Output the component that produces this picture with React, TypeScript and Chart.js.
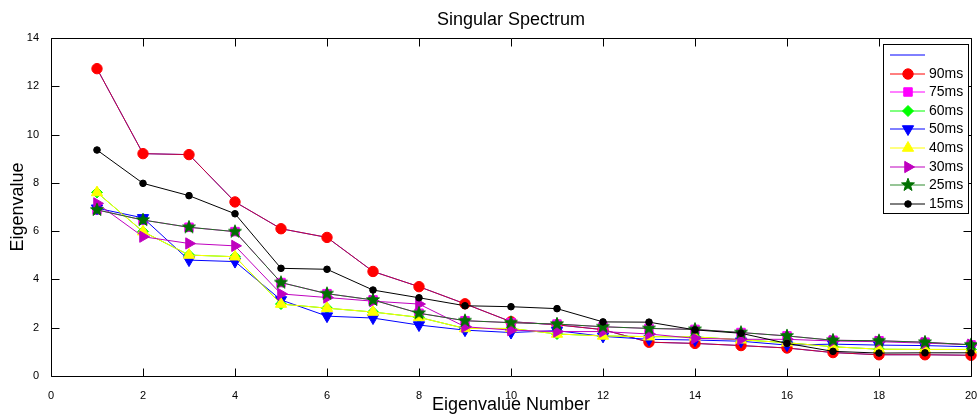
import React, { useEffect, useRef } from 'react';
import { Chart, registerables } from 'chart.js';

Chart.register(...registerables);

// ---- data ----
const eigenIndex = [1, 2, 3, 4, 5, 6, 7, 8, 9, 10, 11, 12, 13, 14, 15, 16, 17, 18, 19, 20];
const seriesLabels = ['', '90ms', '75ms', '60ms', '50ms', '40ms', '30ms', '25ms', '15ms'];
const s90 = [12.73, 9.21, 9.17, 7.21, 6.10, 5.74, 4.33, 3.70, 2.99, 2.25, 2.12, 1.92, 1.40, 1.35, 1.26, 1.16, 0.97, 0.88, 0.88, 0.86];
const sBlank = [12.73, 9.21, 9.17, 7.21, 6.10, 5.74, 4.33, 3.70, 2.99, 2.25, 2.12, 1.92, 1.40, 1.35, 1.26, 1.16, 0.97, 0.88, 0.88, 0.86];
const s75 = [6.88, 6.46, 6.16, 5.98, 3.87, 3.41, 3.15, 2.60, 2.29, 2.21, 2.15, 2.04, 1.97, 1.93, 1.80, 1.66, 1.48, 1.46, 1.40, 1.29];
const s60 = [7.60, 5.98, 5.01, 4.94, 2.98, 2.81, 2.65, 2.43, 1.97, 1.97, 1.74, 1.66, 1.63, 1.62, 1.50, 1.38, 1.21, 1.11, 1.10, 1.10];
const s50 = [6.95, 6.55, 4.80, 4.74, 3.15, 2.48, 2.40, 2.11, 1.90, 1.80, 1.88, 1.64, 1.52, 1.49, 1.44, 1.28, 1.32, 1.28, 1.26, 1.21];
const s40 = [7.60, 5.98, 5.01, 4.94, 2.98, 2.81, 2.65, 2.43, 1.97, 1.97, 1.74, 1.66, 1.63, 1.62, 1.50, 1.38, 1.21, 1.11, 1.10, 1.10];
const s30 = [7.15, 5.77, 5.49, 5.39, 3.40, 3.25, 3.10, 2.98, 2.04, 1.90, 1.84, 1.84, 1.74, 1.56, 1.52, 1.52, 1.45, 1.42, 1.36, 1.30];
const s25 = [6.88, 6.46, 6.16, 5.98, 3.87, 3.41, 3.15, 2.60, 2.29, 2.21, 2.15, 2.04, 1.97, 1.93, 1.80, 1.66, 1.48, 1.46, 1.40, 1.29];
const s15 = [9.36, 7.98, 7.47, 6.72, 4.46, 4.42, 3.56, 3.24, 2.91, 2.87, 2.79, 2.24, 2.23, 1.91, 1.77, 1.35, 1.02, 0.95, 0.96, 0.96];
const xTickStep = 2;
const yTickStep = 2;
const xMax = 20;
const yMax = 14;

const FONT = "'Liberation Sans', Arial, sans-serif";

function makeStar(color: string): HTMLCanvasElement {
  const c = document.createElement('canvas');
  c.width = 16;
  c.height = 16;
  const g = c.getContext('2d')!;
  const cx = 8, cy = 8, ro = 6.8, ri = 2.8;
  g.beginPath();
  for (let k = 0; k < 10; k++) {
    const r = k % 2 === 0 ? ro : ri;
    const a = (k * Math.PI) / 5;
    const px = cx + Math.sin(a) * r;
    const py = cy - Math.cos(a) * r;
    if (k === 0) g.moveTo(px, py);
    else g.lineTo(px, py);
  }
  g.closePath();
  g.fillStyle = color;
  g.strokeStyle = color;
  g.lineWidth = 1;
  g.fill();
  g.stroke();
  return c;
}

function drawMarker(ctx: CanvasRenderingContext2D, ds: any) {
  const style = ds.pointStyle;
  const r = ds.pointRadius || 0;
  if (!r) return;
  if (style instanceof HTMLCanvasElement) {
    ctx.drawImage(style, -style.width / 2, -style.height / 2);
    return;
  }
  ctx.save();
  ctx.rotate(((ds.pointRotation || 0) * Math.PI) / 180);
  ctx.beginPath();
  if (style === 'circle') {
    ctx.arc(0, 0, r, 0, Math.PI * 2);
  } else if (style === 'rect') {
    const s = r * Math.SQRT1_2;
    ctx.rect(-s, -s, 2 * s, 2 * s);
  } else if (style === 'rectRot') {
    ctx.moveTo(0, -r);
    ctx.lineTo(r, 0);
    ctx.lineTo(0, r);
    ctx.lineTo(-r, 0);
    ctx.closePath();
  } else if (style === 'triangle') {
    for (let k = 0; k < 3; k++) {
      const a = (k * 2 * Math.PI) / 3;
      const px = Math.sin(a) * r;
      const py = -Math.cos(a) * r;
      if (k === 0) ctx.moveTo(px, py);
      else ctx.lineTo(px, py);
    }
    ctx.closePath();
  }
  ctx.fillStyle = ds.pointBackgroundColor;
  ctx.strokeStyle = ds.pointBorderColor;
  ctx.lineWidth = ds.pointBorderWidth || 1;
  ctx.fill();
  ctx.stroke();
  ctx.restore();
}

const framePlugin = {
  id: 'matlabFrame',
  afterDatasetsDraw(chart: any) {
    const { ctx, chartArea: a, scales } = chart;
    const x = scales.x;
    const y = scales.y;
    const L = Math.round(a.left) + 0.5;
    const R = Math.round(a.right) + 0.5;
    const T = Math.round(a.top) + 0.5;
    const B = Math.round(a.bottom) + 0.5;
    const tl = 8;
    ctx.save();
    ctx.strokeStyle = '#000';
    ctx.lineWidth = 1;
    ctx.beginPath();
    ctx.rect(L, T, R - L, B - T);
    x.ticks.forEach((t: any) => {
      const px = Math.round(x.getPixelForValue(t.value)) + 0.5;
      ctx.moveTo(px, B);
      ctx.lineTo(px, B - tl);
      ctx.moveTo(px, T);
      ctx.lineTo(px, T + tl);
    });
    y.ticks.forEach((t: any) => {
      const py = Math.round(y.getPixelForValue(t.value)) + 0.5;
      ctx.moveTo(L, py);
      ctx.lineTo(L + tl, py);
      ctx.moveTo(R, py);
      ctx.lineTo(R - tl, py);
    });
    ctx.stroke();
    ctx.restore();
  },
};

const legendPlugin = {
  id: 'matlabLegend',
  afterDraw(chart: any) {
    const { ctx, chartArea: a } = chart;
    const datasets = chart.data.datasets;
    const rowH = 18.6;
    const boxW = 85;
    const boxR = Math.round(a.right) - 3;
    const boxT = Math.round(a.top) + 6;
    const boxH = Math.round(datasets.length * rowH + 2);
    const boxL = boxR - boxW;
    ctx.save();
    ctx.fillStyle = '#fff';
    ctx.fillRect(boxL, boxT, boxW, boxH);
    ctx.strokeStyle = '#000';
    ctx.lineWidth = 1;
    ctx.strokeRect(boxL + 0.5, boxT + 0.5, boxW, boxH);
    ctx.font = `14px ${FONT}`;
    ctx.textBaseline = 'middle';
    ctx.textAlign = 'left';
    datasets.forEach((ds: any, i: number) => {
      const cy = Math.round(boxT + 11 + i * rowH);
      ctx.beginPath();
      ctx.strokeStyle = ds.legendColor || ds.borderColor;
      ctx.lineWidth = 1;
      ctx.moveTo(boxL + 7, cy);
      ctx.lineTo(boxL + 42, cy);
      ctx.stroke();
      ctx.save();
      ctx.translate(boxL + 25, cy);
      drawMarker(ctx, ds);
      ctx.restore();
      if (ds.label) {
        ctx.fillStyle = '#000';
        ctx.fillText(ds.label, boxL + 46, cy + 0.5);
      }
    });
    ctx.restore();
  },
};

export default function App() {
  const canvasRef = useRef<HTMLCanvasElement | null>(null);

  useEffect(() => {
    if (!canvasRef.current) return;
    const star = makeStar('#007000');
    const pts = (arr: number[]) => arr.map((v, i) => ({ x: eigenIndex[i], y: v }));
    const specs = [
      { data: sBlank, color: '#0000ff', legendColor: '#0000ff', style: 'circle', radius: 0, rot: 0, fill: '#0000ff' },
      { data: s90, color: 'rgba(255,0,0,0.78)', legendColor: '#ff0000', style: 'circle', radius: 5.2, rot: 0, fill: '#ff0000' },
      { data: s75, color: '#ff00ff', legendColor: '#ff00ff', style: 'rect', radius: 6, rot: 0, fill: '#ff00ff' },
      { data: s60, color: '#00ff00', legendColor: '#00ff00', style: 'rectRot', radius: 5.5, rot: 0, fill: '#00ff00' },
      { data: s50, color: '#0000ff', legendColor: '#0000ff', style: 'triangle', radius: 6.5, rot: 180, fill: '#0000ff' },
      { data: s40, color: '#ffff00', legendColor: '#ffff00', style: 'triangle', radius: 6.5, rot: 0, fill: '#ffff00' },
      { data: s30, color: '#bf00bf', legendColor: '#bf00bf', style: 'triangle', radius: 6.5, rot: 90, fill: '#bf00bf' },
      { data: s25, color: '#1e6e1e', legendColor: '#2e8b2e', style: star as any, radius: 6, rot: 0, fill: '#007000' },
      { data: s15, color: '#000000', legendColor: '#000000', style: 'circle', radius: 3.3, rot: 0, fill: '#000000' },
    ];
    const n = specs.length;
    const datasets = specs.map((s, i) => ({
      label: seriesLabels[i],
      data: pts(s.data),
      borderColor: s.color,
      legendColor: s.legendColor,
      backgroundColor: s.fill,
      borderWidth: 1,
      pointStyle: s.style,
      pointRadius: s.radius,
      pointRotation: s.rot,
      pointBackgroundColor: s.fill,
      pointBorderColor: s.fill,
      pointBorderWidth: 1,
      pointHoverRadius: s.radius,
      tension: 0,
      fill: false,
      clip: false as any,
      order: n - i,
    }));

    const chart = new Chart(canvasRef.current, {
      type: 'line',
      data: { datasets: datasets as any },
      options: {
        animation: false,
        responsive: false,
        devicePixelRatio: 1,
        events: [],
        layout: { padding: { left: 0, right: 29, top: 0, bottom: 0 } },
        plugins: {
          legend: { display: false },
          tooltip: { enabled: false },
          title: {
            display: true,
            text: 'Singular Spectrum',
            color: '#000',
            fullSize: false,
            font: { family: FONT, size: 18, weight: 'normal' },
            padding: { top: 9, bottom: 7.4 },
          },
        },
        scales: {
          x: {
            type: 'linear',
            min: 0,
            max: xMax,
            grid: { display: false },
            border: { display: false },
            ticks: {
              stepSize: xTickStep,
              color: '#000',
              padding: 5,
              maxRotation: 0,
              font: { family: FONT, size: 11 },
            },
            title: {
              display: true,
              text: 'Eigenvalue Number',
              color: '#000',
              font: { family: FONT, size: 18 },
              padding: { top: 0, bottom: 1 },
            },
            afterFit: (s: any) => {
              s.height = 41;
            },
          },
          y: {
            type: 'linear',
            min: 0,
            max: yMax,
            grid: { display: false },
            border: { display: false },
            ticks: {
              stepSize: yTickStep,
              color: '#000',
              padding: 4,
              font: { family: FONT, size: 11 },
            },
            title: {
              display: true,
              text: 'Eigenvalue',
              color: '#000',
              font: { family: FONT, size: 18 },
              padding: { top: 7, bottom: 0 },
            },
            afterFit: (s: any) => {
              s.width = 51;
            },
          },
        },
      },
      plugins: [framePlugin, legendPlugin],
    });
    return () => chart.destroy();
  }, []);

  return (
    <div style={{ position: 'fixed', left: 0, top: 0, width: 1000, height: 417, background: '#fff' }}>
      <canvas ref={canvasRef} width={1000} height={417} style={{ display: 'block', width: 1000, height: 417 }} />
    </div>
  );
}
